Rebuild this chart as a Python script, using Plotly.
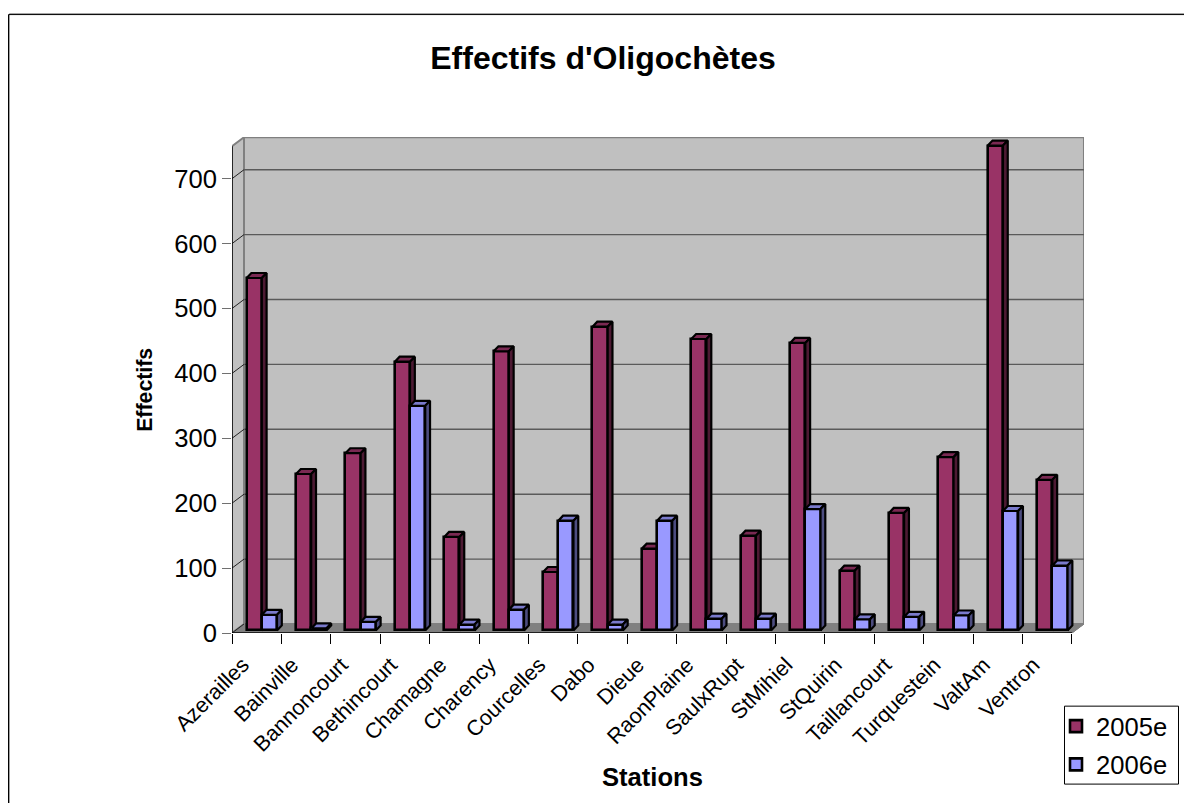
import plotly.graph_objects as go

stations = ["Azerailles", "Bainville", "Bannoncourt", "Bethincourt", "Chamagne", "Charency",
            "Courcelles", "Dabo", "Dieue", "RaonPlaine", "SaulxRupt", "StMihiel", "StQuirin",
            "Taillancourt", "Turquestein", "ValtAm", "Ventron"]
effectifs_2005 = [543, 241, 273, 414, 144, 430, 90, 468, 126, 449, 146, 443, 92, 181, 267, 747, 232]
effectifs_2006 = [24, 3, 13, 346, 9, 32, 169, 9, 169, 18, 18, 187, 17, 21, 23, 184, 100]
y_ticks = [0, 100, 200, 300, 400, 500, 600, 700]

MAROON, MAROON_TOP, MAROON_SIDE = "#993366", "#7A2952", "#4D1A33"
BLUE, BLUE_TOP, BLUE_SIDE = "#9999FF", "#7A7ACC", "#4D4D80"
WALL, FLOOR, GRID = "#C0C0C0", "#808080", "#5A5A5A"

# Page layout of the drawing area, and the scales it implies
LEFT, RIGHT, TOP, BOTTOM = 232, 1084, 137, 633.3
PX_PER_CAT = 49.41
PX_PER_UNIT = 0.6494
x_max = (RIGHT - LEFT) / PX_PER_CAT
y_max = (BOTTOM - TOP) / PX_PER_UNIT
n = len(stations)

# Oblique projection depths, in axis units
wall_dx, wall_dy = 12 / PX_PER_CAT, 9 / PX_PER_UNIT
bar_dx, bar_dy = 4.8 / PX_PER_CAT, 5 / PX_PER_UNIT
bar_width = 15.2 / PX_PER_CAT
bar_base = 2.6 / PX_PER_UNIT
first_left, second_left = 14.6 / PX_PER_CAT, 29.8 / PX_PER_CAT
WALL_TOP = 750


def paper_x(px):
    return (px - LEFT) / (RIGHT - LEFT)


def paper_y(px):
    return (BOTTOM - px) / (BOTTOM - TOP)


def poly(xs, ys, fill, line=None, width=0):
    return dict(type="path", xref="x", yref="y", layer="below",
                path="M" + "L".join(f"{a},{b}" for a, b in zip(xs, ys)) + "Z",
                fillcolor=fill, line=dict(color=line or fill, width=width))


def seg(x0, y0, x1, y1, color, width):
    return dict(type="line", xref="x", yref="y", layer="below", x0=x0, y0=y0, x1=x1, y1=y1,
                line=dict(color=color, width=width))


shapes = [
    # back wall, left wall and floor
    poly([wall_dx, n + wall_dx, n + wall_dx, wall_dx],
         [wall_dy, wall_dy, WALL_TOP + wall_dy, WALL_TOP + wall_dy], WALL, FLOOR, 2),
    poly([0, wall_dx, wall_dx, 0], [0, wall_dy, WALL_TOP + wall_dy, WALL_TOP], WALL, FLOOR, 2),
    poly([0, n, n + wall_dx, wall_dx], [0, 0, wall_dy, wall_dy], FLOOR, FLOOR, 1),
]
for t in y_ticks[1:]:
    shapes.append(seg(wall_dx, t + wall_dy, n + wall_dx, t + wall_dy, GRID, 1.4))
    shapes.append(seg(0, t, wall_dx, t + wall_dy, "#222222", 1))
shapes.append(seg(0, 0, wall_dx, wall_dy, "#222222", 1))
shapes.append(seg(0, 0, 0, WALL_TOP, "#000000", 1.4))
shapes.append(seg(0, 0, n, 0, "#000000", 1.4))
shapes.append(seg(n, 0, n + wall_dx, wall_dy, FLOOR, 1))
# chart frame, open past the right and bottom page edges, with its soft grey companion line
for offset, colour in ((1, "#A0A0A0"), (0, "#000000")):
    shapes.append(dict(type="rect", xref="paper", yref="paper", layer="below",
                       x0=paper_x(8.5 + offset), x1=paper_x(1200),
                       y0=paper_y(820), y1=paper_y(14.5 - offset),
                       line=dict(color=colour, width=1)))
# legend box
shapes.append(dict(type="rect", xref="paper", yref="paper", layer="below",
                   x0=paper_x(1064.5), x1=paper_x(1178.5), y0=paper_y(784.5), y1=paper_y(706.5),
                   fillcolor="white", line=dict(color="#000000", width=1)))


def faces(values, left, top_color, side_color, xa, ya):
    """Top and side faces of a series of oblique bars, as one filled trace each."""
    top_x, top_y, side_x, side_y = [], [], [], []
    for i, v in enumerate(values):
        x0 = i + left
        x1 = x0 + bar_width
        y1 = bar_base + v
        top_x += [x0, x1, x1 + bar_dx, x0 + bar_dx, x0, None]
        top_y += [y1, y1, y1 + bar_dy, y1 + bar_dy, y1, None]
        side_x += [x1, x1 + bar_dx, x1 + bar_dx, x1, x1, None]
        side_y += [bar_base, bar_base + bar_dy, y1 + bar_dy, y1, bar_base, None]
    common = dict(mode="lines", fill="toself", showlegend=False, hoverinfo="skip",
                  line=dict(color="#000000", width=2.2), xaxis=xa, yaxis=ya)
    return [go.Scatter(x=top_x, y=top_y, fillcolor=top_color, **common),
            go.Scatter(x=side_x, y=side_y, fillcolor=side_color, **common)]


def front(values, left, color, name, xa, ya):
    return go.Bar(x=[i + left + bar_width / 2 for i in range(n)], y=values, base=bar_base,
                  width=bar_width, name=name, legendgroup=name,
                  marker=dict(color=color, line=dict(color="#000000", width=2.6)),
                  xaxis=xa, yaxis=ya)


fig = go.Figure()
# The second series sits on an overlaying subplot so its faces cover the first series' sides
fig.add_trace(front(effectifs_2005, first_left, MAROON, "2005e", "x", "y"))
fig.add_traces(faces(effectifs_2005, first_left, MAROON_TOP, MAROON_SIDE, "x", "y"))
fig.add_trace(front(effectifs_2006, second_left, BLUE, "2006e", "x2", "y2"))
fig.add_traces(faces(effectifs_2006, second_left, BLUE_TOP, BLUE_SIDE, "x2", "y2"))

fig.update_layout(
    width=1184, height=803, autosize=False,
    margin=dict(l=LEFT, r=1184 - RIGHT, t=TOP, b=803 - BOTTOM, pad=0, autoexpand=False),
    paper_bgcolor="white", plot_bgcolor="white",
    font=dict(family="Liberation Sans, Arial, sans-serif", color="#000000"),
    barmode="overlay", bargap=0,
    title=dict(text="<b>Effectifs d'Oligochètes</b>", font=dict(size=32), x=603 / 1184, xanchor="center",
               y=1 - 58 / 803, yanchor="middle"),
    xaxis=dict(range=[0, x_max], tickmode="array", tickvals=list(range(n + 1)), showticklabels=False,
               ticks="outside", ticklen=10, tickcolor="#000000", tickwidth=1, showgrid=False, zeroline=False,
               showline=False),
    xaxis2=dict(range=[0, x_max], overlaying="x", anchor="y", tickmode="array",
                tickvals=[i + 0.5 for i in range(n)], ticktext=stations, tickangle=-45,
                ticks="", showgrid=False, zeroline=False, showline=False,
                tickfont=dict(size=21.6), ticklabelstandoff=14, ticklabelshift=-14, side="bottom"),
    yaxis=dict(range=[0, y_max], tickmode="array", tickvals=y_ticks, ticks="outside", ticklen=9,
               tickcolor="#707070", tickwidth=1, tickfont=dict(size=25.6), showgrid=False, zeroline=False,
               showline=False),
    yaxis2=dict(range=[0, y_max], overlaying="y", anchor="x", visible=False),
    legend=dict(xref="container", yref="container", x=1056 / 1184, xanchor="left",
                y=1 - 703 / 803, yanchor="top", bgcolor="rgba(0,0,0,0)", borderwidth=0,
                font=dict(size=25.6), traceorder="grouped", tracegroupgap=2, itemclick=False),
    shapes=shapes,
    annotations=[
        dict(text="<b>Stations</b>", xref="paper", yref="paper", x=paper_x(652), xanchor="center",
             y=paper_y(777), yanchor="middle", showarrow=False, font=dict(size=25.6)),
        dict(text="<b>Effectifs</b>", xref="paper", yref="paper", x=paper_x(145), xanchor="center",
             y=paper_y(390), yanchor="middle", showarrow=False, textangle=-90, font=dict(size=21.3)),
    ],
)

fig.write_html("out.html")
